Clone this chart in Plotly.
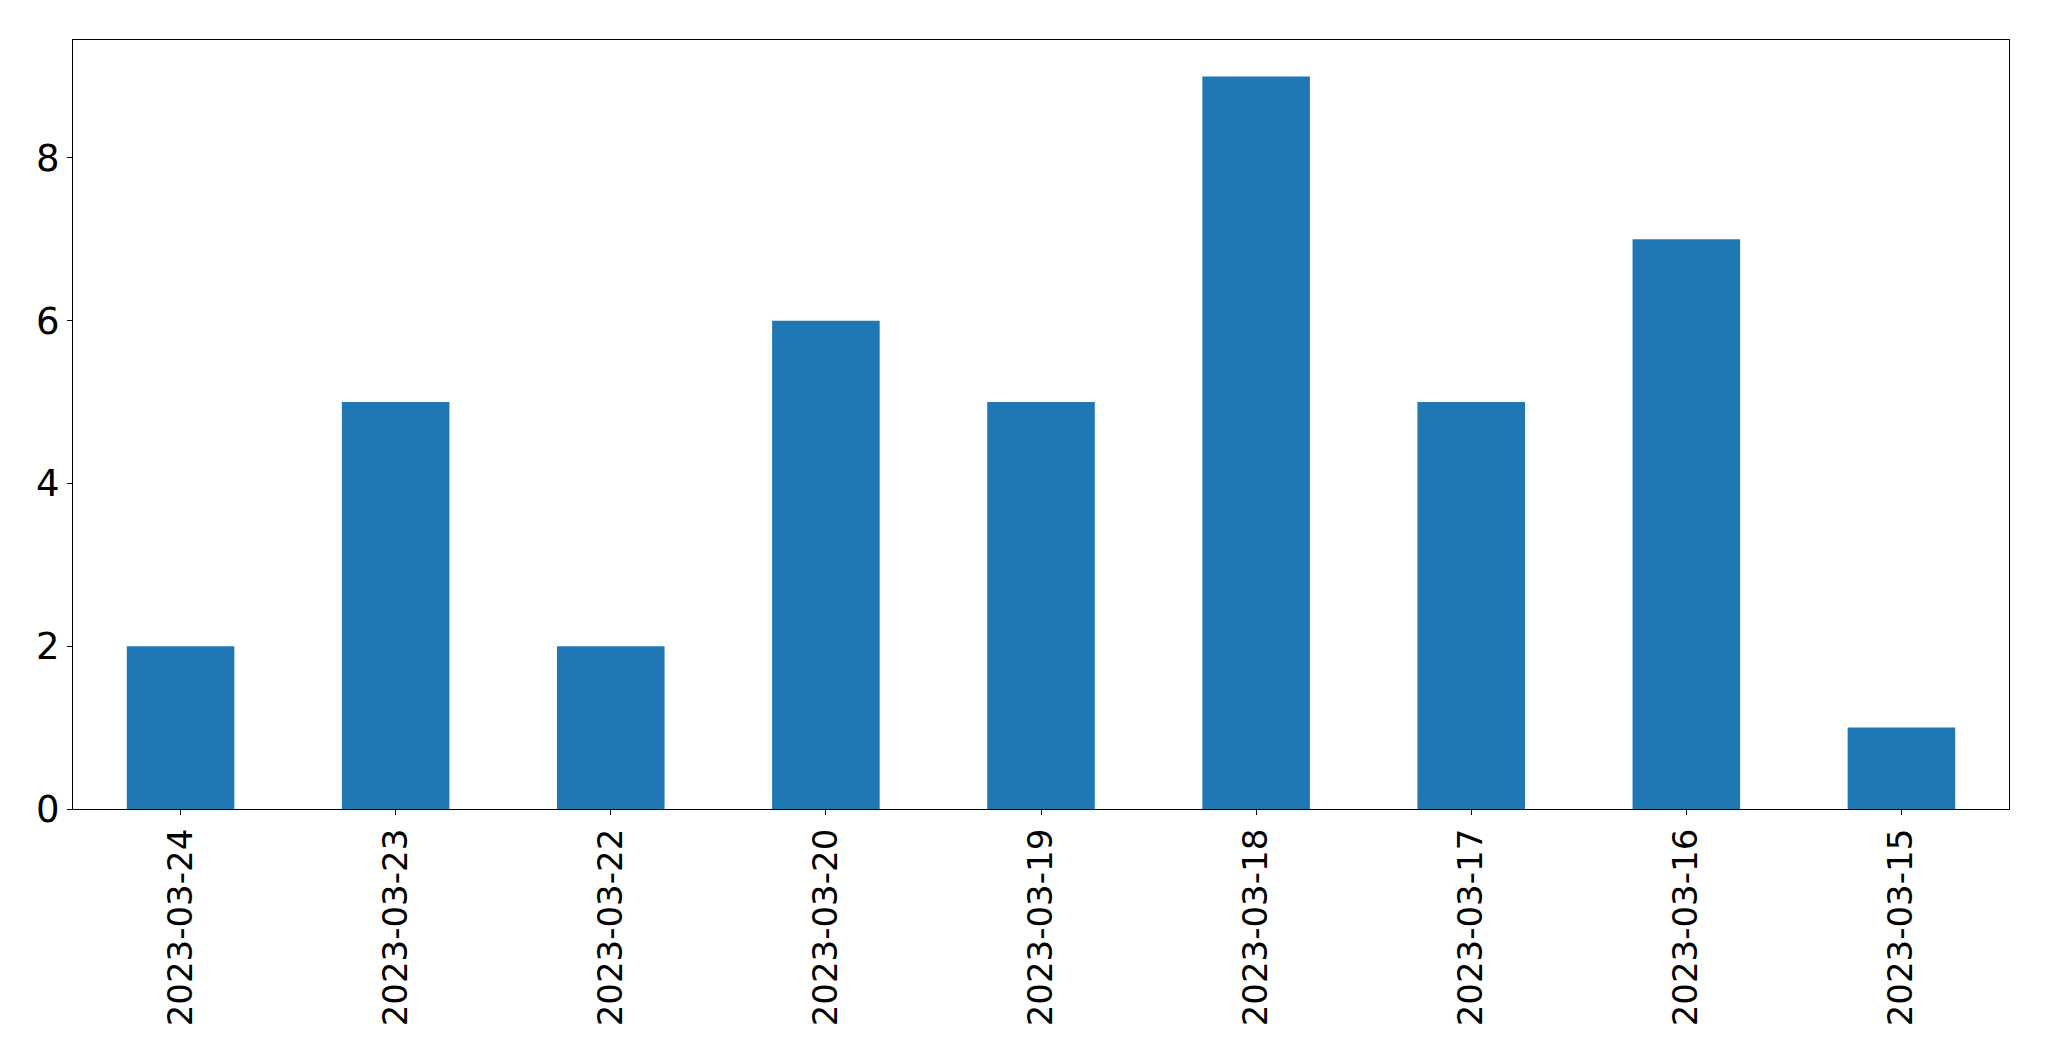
import plotly.graph_objects as go

dates = ["2023-03-24", "2023-03-23", "2023-03-22", "2023-03-20", "2023-03-19",
         "2023-03-18", "2023-03-17", "2023-03-16", "2023-03-15"]
counts = [2, 5, 2, 6, 5, 9, 5, 7, 1]
y_ticks = [0, 2, 4, 6, 8]

fig = go.Figure(go.Bar(x=dates, y=counts, marker=dict(color="#1f77b4", line=dict(width=0)), width=0.5))

axis_common = dict(showline=True, linecolor="black", linewidth=1.3, mirror=True,
                   ticks="outside", ticklen=5, tickwidth=1.3, tickcolor="black",
                   showgrid=False, zeroline=False)

fig.update_layout(
    width=2041, height=1053,
    margin=dict(l=64.5, r=40, t=31.5, b=252, pad=0),
    plot_bgcolor="white", paper_bgcolor="white",
    showlegend=False,
    xaxis=dict(type="category", range=[-0.5, 8.5], tickangle=-90,
               tickfont=dict(family="DejaVu Sans", size=34, color="black"), **axis_common),
    yaxis=dict(range=[0, 9.45], tickvals=y_ticks, ticktext=[str(v) for v in y_ticks],
               tickfont=dict(family="DejaVu Sans", size=37, color="black"), **axis_common),
)

fig.write_html("out.html")
